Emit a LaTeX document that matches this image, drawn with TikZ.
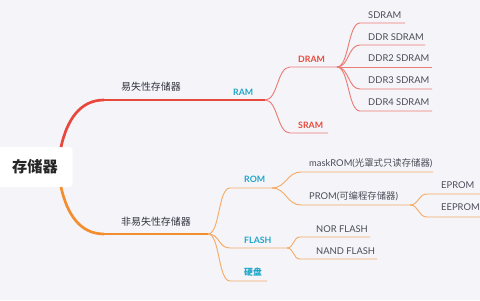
\documentclass[tikz,border=0pt]{standalone}
\usepackage{fontspec}
\setmainfont{Lato}
\newfontfamily\cjk{Noto Sans CJK SC}

\definecolor{bgcol}{HTML}{F4F4F9}
\definecolor{redmain}{HTML}{E8473B}
\definecolor{redline}{HTML}{EC7C74}
\definecolor{redtxt}{HTML}{E8493C}
\definecolor{ormain}{HTML}{F28E2E}
\definecolor{orline}{HTML}{F4AC66}
\definecolor{cyantxt}{HTML}{1EA6C8}
\definecolor{leafcol}{HTML}{4C4C58}
\definecolor{maintxt}{HTML}{33333F}

\begin{document}
\begin{tikzpicture}[x=0.3mm,y=-0.3mm,
  redln/.style={draw=redline,line width=0.8pt},
  orln/.style={draw=orline,line width=0.8pt},
  leaf/.style={anchor=west,inner sep=0pt,text=leafcol,font=\fontsize{8}{9}\selectfont},
  catred/.style={anchor=west,inner sep=0pt,text=redtxt,font=\bfseries\fontsize{7.5}{9}\selectfont},
  catcyan/.style={anchor=west,inner sep=0pt,text=cyantxt,font=\bfseries\fontsize{7.5}{9}\selectfont},
  mainlbl/.style={inner sep=0pt,text=maintxt,font=\cjk\fontsize{8.5}{10}\selectfont}]

\fill[bgcol] (0,0) rectangle (480,300);
\useasboundingbox (0,0) rectangle (480,300);

% root
\node[fill=white,rounded corners=1mm,minimum width=22.5mm,minimum height=12mm,
      font=\cjk\bfseries\fontsize{13}{15}\selectfont,text=black!85] (root) at (35,167) {存储器};

% points on the branches
\coordinate (rtop) at (61,147);
\coordinate (ramk) at (104,100);
\coordinate (ramf) at (265,100);
\coordinate (dram0) at (290,67);
\coordinate (dramf) at (337,67);
\coordinate (sram0) at (290,133);
\coordinate (sram1) at (328,133);
\coordinate (sd0) at (360,23);   \coordinate (sd1) at (405,23);
\coordinate (ddr0) at (360,45);  \coordinate (ddr1) at (425,45);
\coordinate (ddrb) at (432,67);
\coordinate (ddrc0) at (360,89); \coordinate (ddrc1) at (432,89);
\coordinate (ddrd0) at (360,111);\coordinate (ddrd1) at (432,111);

\coordinate (rbot) at (61,187);
\coordinate (nvk) at (104,234);
\coordinate (nvf) at (208,234);
\coordinate (rom0) at (230,188);
\coordinate (romf) at (272,188);
\coordinate (fl0) at (230,248);
\coordinate (flf) at (287,248);
\coordinate (hd0) at (230,281);
\coordinate (hd1) at (267,281);
\coordinate (mk0) at (301,172);  \coordinate (mk1) at (433,172);
\coordinate (pr0) at (301,205);  \coordinate (prf) at (410,205);
\coordinate (ep0) at (427,194);  \coordinate (ep1) at (480,194);
\coordinate (eep0) at (427,217); \coordinate (eep1) at (480,217);
\coordinate (nor0) at (300,237); \coordinate (nor1) at (370,237);
\coordinate (nan0) at (300,259); \coordinate (nan1) at (377,259);

% volatile side
\draw[redmain,line width=2.3pt] (rtop) .. controls (67,120) and (80,100) .. (ramk);
\draw[redmain,line width=1.1pt] (ramk) -- (ramf);
\draw[redln] (ramf) .. controls +(13,0) and +(-13,0) .. (dram0) -- (dramf);
\draw[redln] (ramf) .. controls +(13,0) and +(-13,0) .. (sram0) -- (sram1);
\foreach \a/\b in {sd0/sd1,ddr0/ddr1,ddrc0/ddrc1,ddrd0/ddrd1}
  \draw[redln] (dramf) .. controls +(12,0) and +(-12,0) .. (\a) -- (\b);
\draw[redln] (dramf) -- (ddrb);

% non-volatile side
\draw[ormain,line width=2.3pt] (rbot) .. controls (67,214) and (80,234) .. (nvk);
\draw[ormain,line width=1.1pt] (nvk) -- (nvf);
\foreach \a/\b in {rom0/romf,fl0/flf,hd0/hd1}
  \draw[orln] (nvf) .. controls +(12,0) and +(-12,0) .. (\a) -- (\b);
\foreach \a/\b in {mk0/mk1,pr0/prf}
  \draw[orln] (romf) .. controls +(14,0) and +(-14,0) .. (\a) -- (\b);
\foreach \a/\b in {ep0/ep1,eep0/eep1}
  \draw[orln] (prf) .. controls +(9,0) and +(-9,0) .. (\a) -- (\b);
\foreach \a/\b in {nor0/nor1,nan0/nan1}
  \draw[orln] (flf) .. controls +(7,0) and +(-7,0) .. (\a) -- (\b);

% labels
\node[mainlbl] (vol) at (151,87) {易失性存储器};
\node[mainlbl] (nvol) at (156,222) {非易失性存储器};

\node[catcyan] (ram) at (233,92) {RAM};
\node[catred] (dram) at (298,59) {DRAM};
\node[catred] (sram) at (298,125) {SRAM};
\node[leaf] (sdram) at (368,15) {SDRAM};
\node[leaf] (ddr) at (368,37) {DDR SDRAM};
\node[leaf] (ddr2) at (368,58) {DDR2 SDRAM};
\node[leaf] (ddr3) at (368,80) {DDR3 SDRAM};
\node[leaf] (ddr4) at (368,102) {DDR4 SDRAM};

\node[catcyan] (rom) at (244,179) {ROM};
\node[catcyan] (flash) at (244,240) {FLASH};
\node[catcyan,font=\cjk\bfseries\fontsize{7.5}{9}\selectfont] (hdd) at (244,272) {硬盘};
\node[leaf] (mask) at (309,163) {maskROM({\cjk 光罩式只读存储器})};
\node[leaf] (prom) at (309,196) {PROM({\cjk 可编程存储器})};
\node[leaf] (eprom) at (441,185) {EPROM};
\node[leaf] (eeprom) at (441,207) {EEPROM};
\node[leaf] (nor) at (316,229) {NOR FLASH};
\node[leaf] (nand) at (316,251) {NAND FLASH};

\end{tikzpicture}
\end{document}
